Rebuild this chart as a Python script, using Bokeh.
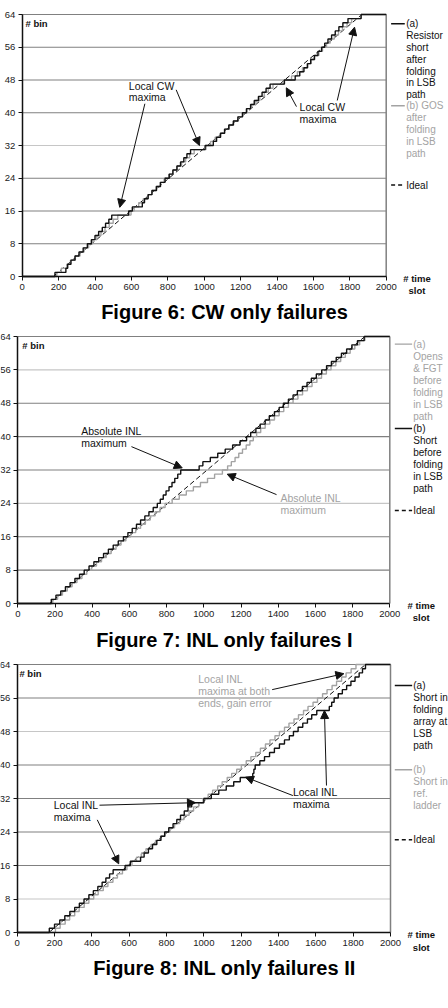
from bokeh.plotting import figure
from bokeh.models import Range1d, Arrow, NormalHead, Title, FixedTicker
from bokeh.layouts import column
from bokeh.core.properties import value
from bokeh.embed import file_html
from bokeh.resources import INLINE

FONT = "Liberation Sans"

# ---------------- data ----------------
time_ticks = [0, 200, 400, 600, 800, 1000, 1200, 1400, 1600, 1800, 2000]
bin_ticks = [0, 8, 16, 24, 32, 40, 48, 56, 64]
bins = list(range(0, 65))          # output code levels 0..64

ideal_slots = [0, 170, 1866, 2000]
ideal_bins = [0, 0, 64, 64]

# time slot at which each code 1..64 is first reached
fig6_a = [180, 240, 250, 268, 290, 312, 335, 358, 380, 400, 420, 440, 458, 476, 492, 585,
          605, 660, 672, 692, 713, 738, 760, 785, 808, 828, 850, 870, 888, 905, 925, 1005,
          1050, 1068, 1090, 1112, 1135, 1160, 1185, 1210, 1232, 1255, 1275, 1298, 1318, 1340, 1362, 1440,
          1500, 1525, 1548, 1568, 1585, 1605, 1625, 1645, 1662, 1680, 1700, 1720, 1740, 1762, 1790, 1862]
fig6_b = [190, 215, 245, 265, 292, 318, 340, 365, 388, 410, 433, 455, 478, 500, 525, 598,
          615, 640, 665, 690, 712, 735, 758, 780, 805, 828, 852, 876, 898, 920, 945, 1010,
          1035, 1060, 1088, 1112, 1138, 1162, 1188, 1212, 1236, 1260, 1284, 1306, 1330, 1352, 1378, 1442,
          1480, 1512, 1540, 1565, 1588, 1608, 1630, 1650, 1672, 1692, 1715, 1738, 1760, 1785, 1810, 1862]
fig7_a = [188, 214, 240, 266, 292, 318, 345, 371, 397, 423, 450, 476, 502, 528, 555, 581,
          607, 634, 660, 686, 712, 738, 765, 792, 830, 868, 906, 944, 982, 1020, 1058, 1100,
          1128, 1148, 1168, 1188, 1208, 1228, 1248, 1266, 1284, 1306, 1330, 1355, 1380, 1405, 1430, 1455,
          1480, 1506, 1531, 1557, 1582, 1608, 1633, 1659, 1684, 1710, 1736, 1761, 1787, 1812, 1838, 1866]
fig7_b = [180, 205, 231, 256, 281, 307, 332, 357, 383, 409, 435, 461, 487, 513, 540, 568,
          592, 615, 638, 660, 683, 705, 728, 750, 766, 782, 797, 813, 829, 844, 860, 876,
          975, 995, 1035, 1075, 1115, 1155, 1195, 1230, 1252, 1280, 1303, 1330, 1352, 1380, 1405, 1428,
          1455, 1480, 1503, 1530, 1555, 1578, 1605, 1634, 1660, 1686, 1712, 1740, 1768, 1796, 1826, 1862]
fig8_a = [172, 200, 228, 255, 282, 308, 333, 358, 384, 408, 432, 455, 475, 495, 514, 578,
          606, 661, 680, 703, 725, 748, 770, 790, 812, 835, 855, 875, 895, 915, 935, 1000,
          1040, 1080, 1120, 1160, 1195, 1262, 1268, 1275, 1300, 1325, 1352, 1378, 1405, 1432, 1458, 1480,
          1505, 1530, 1555, 1578, 1605, 1672, 1685, 1698, 1720, 1742, 1765, 1788, 1810, 1832, 1850, 1866]
fig8_b = [205, 230, 257, 281, 308, 332, 359, 384, 410, 434, 461, 486, 513, 537, 564, 588,
          615, 639, 666, 690, 717, 741, 768, 792, 819, 843, 870, 894, 921, 945, 972, 996,
          1023, 1047, 1074, 1098, 1125, 1149, 1176, 1201, 1227, 1252, 1278, 1303, 1330, 1354, 1381, 1405,
          1432, 1456, 1483, 1507, 1534, 1558, 1585, 1609, 1636, 1660, 1687, 1711, 1738, 1762, 1789, 1815]

BLACK = "#111111"
GRAY = "#a3a3a3"
GRID_DARK = "#808080"
GRID_LIGHT = "#c6c6c6"
WIDTH = 448

panels = [
    dict(caption="Figure 6: CW only failures", height=330,
         left=21.7, right=385.7, top=14, zero=276, extra=21, cap_offset=-2, cap_standoff=3,
         series=[(fig6_b, GRAY), (fig6_a, BLACK)], light=[32],
         legend=[(["(a)", "Resistor", "short", "after", "folding", "in LSB", "path"], BLACK, "solid", 9.3),
                 (["(b) GOS", "after", "folding", "in LSB", "path"], GRAY, "solid", 91.3),
                 (["Ideal"], BLACK, "dashed", 170.5)],
         leg=(2027, 2102, 2110, 11.8),
         texts=[("Local CW", 586, 46.6, BLACK), ("maxima", 586, 43.8, BLACK),
                ("Local CW", 1524, 41.3, BLACK), ("maxima", 1524, 38.4, BLACK)],
         arrows=[(674, 42.2, 536, 16.9), (846, 45.6, 974, 32.0),
                 (1507, 41.5, 1451, 46.1), (1731, 43.0, 1826, 60.9)],
         bin_lab=(18, 61.9), time_lab=(2169, -0.4, -3.5)),
    dict(caption="Figure 7: INL only failures I", height=330,
         left=17.3, right=389.3, top=6, zero=273, extra=21, cap_offset=-2, cap_standoff=4,
         series=[(fig7_a, GRAY), (fig7_b, BLACK)], light=[56, 24],
         legend=[(["(a)", "Opens", "& FGT", "before", "folding", "in LSB", "path"], GRAY, "solid", 7.6),
                 (["(b)", "Short", "before", "folding", "in LSB", "path"], BLACK, "solid", 92.0),
                 (["Ideal"], BLACK, "dashed", 174.0)],
         leg=(2027, 2120, 2126, 12.0),
         texts=[("Absolute INL", 341, 41.3, BLACK), ("maximum", 341, 38.4, BLACK),
                ("Absolute INL", 1412, 25.3, GRAY), ("maximum", 1412, 22.4, GRAY)],
         arrows=[(611, 37.6, 884, 32.5), (1391, 26.1, 1126, 31.0)],
         bin_lab=(24, 61.8), time_lab=(2169, -0.4, -3.4)),
    dict(caption="Figure 8: INL only failures II", height=348,
         left=16.7, right=390.0, top=4, zero=272, extra=21, cap_offset=-2, cap_standoff=3,
         series=[(fig8_b, GRAY), (fig8_a, BLACK)], light=[48, 8],
         legend=[(["(a)", "Short in", "folding", "array at", "LSB", "path"], BLACK, "solid", 21.0),
                 (["(b)", "Short in", "ref.", "ladder"], GRAY, "solid", 105.3),
                 (["Ideal"], BLACK, "dashed", 175.3)],
         leg=(2023, 2116, 2122, 12.0),
         texts=[("Local INL", 970, 60.6, GRAY), ("maxima at both", 970, 57.7, GRAY),
                ("ends, gain error", 970, 54.8, GRAY),
                ("Local INL", 196, 30.4, BLACK), ("maxima", 196, 27.5, BLACK),
                ("Local INL", 1477, 33.5, BLACK), ("maxima", 1477, 30.6, BLACK)],
         arrows=[(1366, 58.0, 1750, 61.8), (441, 30.4, 955, 31.0), (429, 26.9, 544, 16.4),
                 (1477, 32.7, 1223, 37.1), (1657, 35.1, 1646, 53.0)],
         bin_lab=(12, 61.9), time_lab=(2165, -0.5, -3.5)),
]


def make_panel(cfg):
    plot_h = cfg["zero"] - cfg["top"]          # pixels for bins 0..64
    ppb = plot_h / 64.0
    y_min = -cfg["extra"] / ppb                # room below the x axis inside the frame
    y_max = bin_ticks[-1] + cfg["top"] / ppb   # room above the top gridline
    border_bottom = cfg["height"] - cfg["zero"] - cfg["extra"]
    pps = (cfg["right"] - cfg["left"]) / (time_ticks[-1] - time_ticks[0])   # px per slot
    x_start = -cfg["left"] / pps
    x_end = (WIDTH - cfg["left"]) / pps
    p = figure(width=WIDTH, height=cfg["height"],
               x_range=Range1d(x_start, x_end), y_range=Range1d(y_min, y_max),
               output_backend="svg", toolbar_location=None,
               min_border_left=0, min_border_right=0,
               min_border_top=0, min_border_bottom=border_bottom,
               background_fill_color="white", border_fill_color="white",
               outline_line_color=None)
    p.xgrid.visible = False
    p.ygrid.visible = False

    # horizontal gridlines and plot border (restricted to 0..2000)
    gx0 = time_ticks[0]
    gx1 = time_ticks[-1]
    levels = bin_ticks[1:]
    colors = [GRID_LIGHT if lv in cfg["light"] else GRID_DARK for lv in levels]
    p.segment(x0=[gx0] * len(levels), x1=[gx1] * len(levels), y0=levels, y1=levels,
              line_color=colors, line_width=1.2)
    p.segment(x0=[gx1], x1=[gx1], y0=[bin_ticks[0]], y1=[bin_ticks[-1]],
              line_color=GRID_DARK, line_width=1.5)

    # axes (drawn at the data origin, inside the frame)
    p.xaxis.fixed_location = 0
    p.yaxis.fixed_location = 0
    for ax, ticks, bnds in ((p.xaxis, time_ticks, (0, 2000)), (p.yaxis, bin_ticks, (0, 64))):
        ax.ticker = FixedTicker(ticks=ticks)
        ax.bounds = bnds
        ax.axis_line_color = BLACK
        ax.axis_line_width = 1.5
        ax.major_tick_line_color = BLACK
        ax.major_tick_out = 4
        ax.major_tick_in = 0
        ax.minor_tick_line_color = None
        ax.major_label_text_font = FONT
        ax.major_label_text_font_size = "9.5px"
        ax.major_label_text_color = "#222222"
        ax.major_label_standoff = 3

    # ideal line
    p.line(ideal_slots, ideal_bins, line_color=BLACK, line_width=1, line_dash="5 3")

    # staircase series
    for trans, col in cfg["series"]:
        xs = [time_ticks[0]] + trans + [time_ticks[-1]]
        ys = bins + [bins[-1]]
        p.step(xs, ys, mode="after", line_color=col, line_width=1.4)

    # legend (drawn in the right part of the frame)
    lx0, lx1, ltx, lstep = cfg["leg"]
    for lines, col, dash, top_px in cfg["legend"]:
        yb = 64 - top_px / ppb
        p.line([lx0, lx1], [yb, yb], line_color=col, line_width=1.4,
               line_dash="4 3" if dash == "dashed" else "solid")
        ys = [64 - (top_px + i * lstep) / ppb for i in range(len(lines))]
        p.text(x=[ltx] * len(lines), y=ys, text=lines, text_font=value(FONT),
               text_font_size="10px", text_color=col, text_align="left",
               text_baseline="middle")

    # annotation texts and arrows
    for t, x, y, col in cfg["texts"]:
        p.text(x=[x], y=[y], text=[t], text_font=value(FONT), text_font_size="10.5px",
               text_color=col, text_align="left", text_baseline="middle")
    for x0, y0, x1, y1 in cfg["arrows"]:
        p.add_layout(Arrow(x_start=x0, y_start=y0, x_end=x1, y_end=y1,
                           line_color=BLACK, line_width=1,
                           end=NormalHead(size=8, fill_color=BLACK, line_color=BLACK,
                                          line_width=1)))

    bx, by = cfg["bin_lab"]
    p.text(x=[bx], y=[by], text=["# bin"], text_font=value(FONT), text_font_size="9.5px",
           text_font_style="bold", text_color=BLACK, text_align="left", text_baseline="middle")
    tx, ty1, ty2 = cfg["time_lab"]
    p.text(x=[tx, tx], y=[ty1, ty2], text=["# time", "slot"], text_font=value(FONT),
           text_font_size="9.5px", text_font_style="bold", text_color=BLACK,
           text_align="center", text_baseline="middle")

    p.add_layout(Title(text=cfg["caption"], align="center", offset=cfg["cap_offset"],
                       text_font=FONT, text_font_size="20px", text_font_style="bold",
                       text_color="black", standoff=cfg["cap_standoff"]), "below")
    return p


figs = [make_panel(c) for c in panels]
layout = column(*figs, spacing=0)
open("out.html", "w").write(file_html(layout, INLINE))
